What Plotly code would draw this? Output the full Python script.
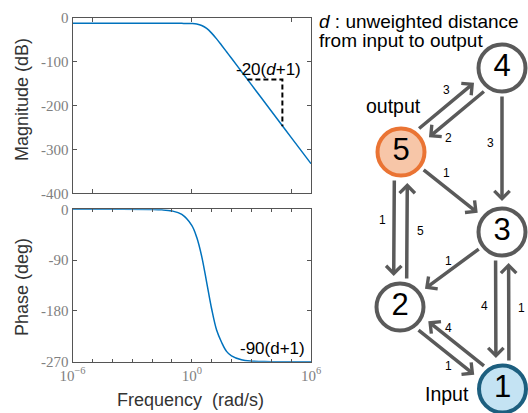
import math
import plotly.graph_objects as go

# ---------------- Bode data ----------------
log_freq = [-6, -4, -2, -1.5, -1, -0.5, 0, 0.25, 0.5, 0.75, 1, 1.25, 1.5, 1.75,
            2, 2.5, 3, 3.5, 4, 5, 6]
magnitude_db = [-12.8, -12.8, -12.8, -12.8, -12.8, -12.9, -13.4, -14.5, -17.7,
                -24.4, -35.1, -48.3, -62.8, -77.6, -92.5, -122.5, -152.5,
                -182.5, -212.5, -272.5, -332.5]
phase_deg = [0, 0, -0.3, -0.9, -2.9, -9.0, -28.4, -49.6, -83.3, -129.3, -176.2,
             -213.9, -235.5, -251.7, -259.7, -266.7, -269.0, -269.6, -269.9,
             -270.0, -270.0]

# slope indicator (-20(d+1) dB/decade)
slope_log_x = [2.8, 4.56, 4.56]
slope_db = [-141, -141, -247]

mag_ticks = [0, -100, -200, -300, -400]
phase_ticks = [0, -90, -180, -270]
decades = list(range(-6, 7))
decade_labels = {-6: "10<sup>\u22126</sup>", 0: "10<sup>0</sup>", 6: "10<sup>6</sup>"}

# ---------------- graph data ----------------
node_ids = ["1", "2", "3", "4", "5"]
node_x = [502.5, 400, 502, 502, 401]
node_y = [389, 307, 232, 68, 152]
node_fill = ["#C4E3F3", "white", "white", "white", "#F7C6A8"]
node_border = ["#1D5F7F", "#5A5A5A", "#5A5A5A", "#5A5A5A", "#EA7434"]

# (source, target, weight, side of the pair offset)
edges = [("5", "4", 3, -1), ("4", "5", 2, -1), ("4", "3", 3, 0), ("5", "3", 1, 0),
         ("5", "2", 1, 1), ("2", "5", 5, 1), ("3", "2", 1, 0), ("3", "1", 4, 1),
         ("1", "3", 1, 1), ("1", "2", 4, 1), ("2", "1", 1, 1)]
edge_label_xy = [(446.7, 90), (448.3, 138.3), (490, 143), (446.7, 173.3),
                 (382.7, 220), (420.7, 230.7), (448.3, 260.7), (484, 306),
                 (521.7, 308.3), (448.3, 328.3), (448.3, 365.7)]

W, H = 528, 413
GRAY = "#5A5A5A"
FRAME = "#555555"
TICKGRAY = "#808080"
SERIF = "Liberation Serif"
SANS = "Liberation Sans"

freq = [10 ** v for v in log_freq]

fig = go.Figure()
fig.add_trace(go.Scatter(x=freq, y=magnitude_db, mode="lines",
                         line=dict(color="#0072BD", width=1.5, shape="spline"),
                         xaxis="x", yaxis="y", showlegend=False, hoverinfo="skip"))
fig.add_trace(go.Scatter(x=[10 ** v for v in slope_log_x], y=slope_db, mode="lines",
                         line=dict(color="black", width=2, dash="5px,3px"),
                         xaxis="x", yaxis="y", showlegend=False, hoverinfo="skip"))
fig.add_trace(go.Scatter(x=freq, y=phase_deg, mode="lines",
                         line=dict(color="#0072BD", width=1.5, shape="spline"),
                         xaxis="x2", yaxis="y2", showlegend=False, hoverinfo="skip"))

# nodes
fig.add_trace(go.Scatter(x=node_x, y=node_y, mode="markers+text", text=node_ids,
                         textposition="middle center",
                         textfont=dict(family=SANS, size=31, color="black"),
                         marker=dict(size=47, color=node_fill,
                                     line=dict(color=node_border, width=4)),
                         xaxis="x3", yaxis="y3", showlegend=False, hoverinfo="skip",
                         cliponaxis=False))

annotations = []
pos = {n: (x, y) for n, x, y in zip(node_ids, node_x, node_y)}
OFF = 6.5
for (s, t, w, side), (lx, ly) in zip(edges, edge_label_xy):
    x0, y0 = pos[s]
    x1, y1 = pos[t]
    dx, dy = x1 - x0, y1 - y0
    L = math.hypot(dx, dy)
    ux, uy = dx / L, dy / L
    nx, ny = -uy, ux
    ox, oy = nx * OFF * side, ny * OFF * side
    tail = (x0 + ux * 27 + ox, y0 + uy * 27 + oy)
    head = (x1 - ux * 31 + ox, y1 - uy * 31 + oy)
    annotations.append(dict(x=head[0], y=head[1], ax=tail[0], ay=tail[1],
                            xref="x3", yref="y3", axref="x3", ayref="y3",
                            showarrow=True, arrowhead=4, arrowsize=0.85,
                            arrowwidth=3.5, arrowcolor=GRAY, standoff=0,
                            startstandoff=0, text=""))
    annotations.append(dict(x=lx, y=ly, xref="x3", yref="y3", text=str(w),
                            showarrow=False, font=dict(family=SANS, size=12, color="black")))

def txt(x, y, s, size=19.5, xanchor="center", angle=0, color="black", xref="x3", yref="y3"):
    annotations.append(dict(x=x, y=y, xref=xref, yref=yref, text=s, showarrow=False,
                            xanchor=xanchor, yanchor="middle", textangle=angle,
                            font=dict(family=SANS, size=size, color=color)))

txt(317, 21, "<i>d</i> : unweighted distance", xanchor="left", size=19)
txt(317, 40, "from input to output", xanchor="left", size=19)
txt(393, 106, "output")
txt(447, 394, "Input")

# Bode annotations
txt(3.85, -119, "-20(<i>d</i>+1)", size=17, xref="x", yref="y")
txt(4.07, -247, "-90(d+1)", size=17, xref="x2", yref="y2")

# axis titles
txt(22, 100, "Magnitude (dB)", size=18, angle=-90, color="#333333")
txt(22, 287, "Phase (deg)", size=18, angle=-90, color="#333333")
txt(190, 400, "Frequency\u00a0\u00a0(rad/s)", size=18, color="#333333")

xdom = [72.5 / W, 311 / W]
common_axis = dict(showline=True, linecolor=FRAME, linewidth=1, mirror="ticks",
                   ticks="inside", ticklen=4, tickcolor=FRAME, showgrid=False,
                   zeroline=False, automargin=False,
                   tickfont=dict(family=SERIF, size=15, color=TICKGRAY))

fig.update_layout(
    width=W, height=H, margin=dict(l=0, r=0, t=0, b=0, pad=0, autoexpand=False),
    paper_bgcolor="white", plot_bgcolor="rgba(0,0,0,0)", showlegend=False,
    xaxis=dict(type="log", range=[-6, 6], domain=xdom, anchor="y",
               tickvals=[1e-5, 1, 1e5], showticklabels=False, **common_axis),
    yaxis=dict(range=[-400, 0], domain=[1 - 193.3 / H, 1 - 17.7 / H], anchor="x",
               tickvals=mag_ticks, ticktext=[str(v) for v in mag_ticks], **common_axis),
    xaxis2=dict(type="log", range=[-6, 6], domain=xdom, anchor="y2",
                tickvals=[10.0 ** d for d in decades],
                ticktext=[decade_labels.get(d, "") for d in decades],
                **{**common_axis, "ticklen": 3}),
    yaxis2=dict(range=[-270, 0], domain=[1 - 361.7 / H, 1 - 209.3 / H], anchor="x2",
                tickvals=phase_ticks, ticktext=[str(v) for v in phase_ticks], **common_axis),
    xaxis3=dict(domain=[0, 1], range=[0, W], anchor="y3", visible=False, fixedrange=True,
                automargin=False),
    yaxis3=dict(domain=[0, 1], range=[H, 0], anchor="x3", visible=False, fixedrange=True,
                automargin=False),
    annotations=annotations,
)

fig.write_html("out.html", config={"displayModeBar": False},
               post_script="document.body.style.margin='0';")
